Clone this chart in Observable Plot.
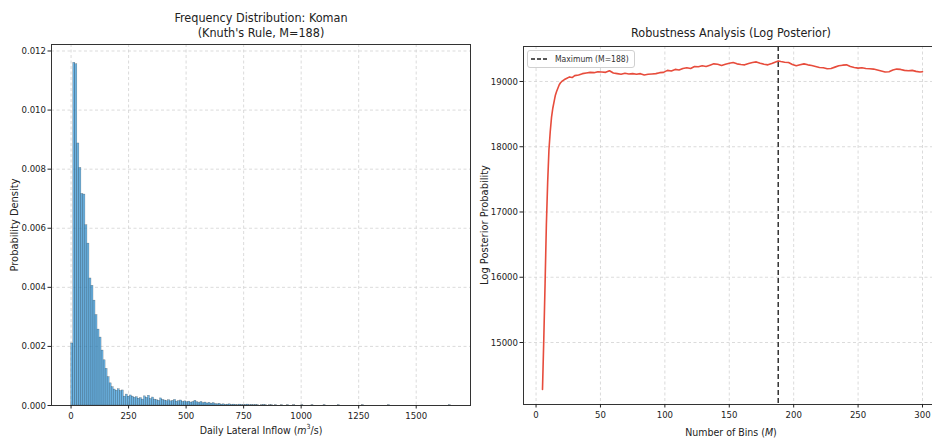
<!DOCTYPE html>
<html><head><meta charset="utf-8">
<script src="https://cdn.jsdelivr.net/npm/d3@7"></script>
<script src="https://cdn.jsdelivr.net/npm/@observablehq/plot@0.6"></script>
<style>
html,body{margin:0;padding:0;background:#fff;overflow:hidden;}
#wrap{position:relative;width:932px;height:440px;overflow:hidden;font-family:"DejaVu Sans Condensed","DejaVu Sans",sans-serif;color:#222;}
.abs{position:absolute;white-space:nowrap;line-height:1;}
.c{transform:translate(-50%,-50%);}
.r{transform:translate(-50%,-50%) rotate(-90deg);}
#wrap svg{position:absolute;top:0;}
</style></head><body><div id="wrap"></div>
<script>
// ---------- Data: histogram (Knuth's rule, M = 188 bins) ----------
const inflowMin = 1;
const inflowMax = 1650;
const nBins = 188;
const density = [
  0.0021, 0.0116, 0.01155, 0.00887, 0.00804, 0.00716, 0.00714, 0.0061, 0.00548, 0.0043,
  0.00405, 0.00355, 0.00306, 0.00257, 0.0023, 0.00186, 0.00153, 0.00124, 0.00096, 0.00075,
  0.00062, 0.00054, 0.0005, 0.00055, 0.00049, 0.00051, 0.0003, 0.00037, 0.0003, 0.00034,
  0.0003, 0.00026, 0.00028, 0.00023, 0.00025, 0.0002, 0.00031, 0.00026, 0.00033, 0.00022,
  0.00027, 0.0002, 0.00018, 0.00016, 0.00024, 0.00019, 0.00017, 0.00015, 0.00018, 0.00014,
  0.00016, 0.00019, 0.00013, 0.00015, 0.00017, 0.00012, 0.00014, 0.00011, 0.00013, 0.0001,
  0.00012, 0.00016, 0.00011, 0.00009, 0.00012, 0.00008, 0.00010, 0.00007, 0.00009, 0.00006,
  0.00008, 0.00005, 0.00004, 0.00006, 0.00003, 0.00004, 0.00002, 0.00003, 0.00004, 0.00002,
  0.00003, 0.00002, 0.00001, 0.00003, 0.00002, 0.00001, 0.00002, 0.00003, 0.00001, 0.00002,
  0.00001, 0.00002, 0.00001, 0.0, 0.00001, 0.00002, 0.00001, 0.0, 0.00001, 0.00001,
  0.0, 0.00001, 0.0, 0.0, 0.00001, 0.0, 0.0, 0.00001, 0.0, 0.0,
  0.00001, 0.0, 0.0, 0.0, 0.00001, 0.0, 0.0, 0.0, 0.0, 0.00001,
  0.0, 0.0, 0.0, 0.0, 0.0, 0.00001, 0.0, 0.0, 0.0, 0.0,
  0.0, 0.0, 0.00001, 0.0, 0.0, 0.0, 0.0, 0.0, 0.0, 0.0,
  0.0, 0.0, 0.0, 0.0, 0.00001, 0.0, 0.0, 0.0, 0.0, 0.0,
  0.0, 0.0, 0.0, 0.0, 0.0, 0.0, 0.0, 0.00001, 0.0, 0.0,
  0.0, 0.0, 0.0, 0.0, 0.0, 0.0, 0.0, 0.0, 0.0, 0.0,
  0.0, 0.0, 0.0, 0.0, 0.0, 0.0, 0.0, 0.0, 0.0, 0.0,
  0.0, 0.0, 0.0, 0.0, 0.0, 0.0, 0.0, 0.00001
];
const histXTicks = [0, 250, 500, 750, 1000, 1250, 1500];
const histYTicks = [0, 0.002, 0.004, 0.006, 0.008, 0.010, 0.012];

// ---------- Data: log posterior vs number of bins ----------
const binsM = [5,6,7,8,9,10,11,12,13,14,15,16,17,18,19,20,22,24,26,28,30,33,36,39,42,45,48,51,54,57,60,63,66,69,72,75,78,81,84,87,90,93,96,99,102,105,108,111,114,117,120,123,126,129,132,135,138,141,144,147,150,153,156,159,162,165,168,171,174,177,180,183,186,188,190,193,196,199,202,205,208,211,214,217,220,223,226,229,232,235,238,241,244,247,250,253,256,259,262,265,268,271,274,277,280,283,286,289,292,295,298,300];
const logPost = [14280,15050,15900,16800,17450,17950,18230,18450,18590,18690,18790,18850,18900,18950,18980,19000,19030,19050,19070,19060,19090,19100,19120,19130,19140,19135,19150,19145,19140,19165,19130,19120,19110,19125,19115,19120,19110,19120,19100,19110,19115,19120,19135,19140,19170,19160,19185,19175,19200,19210,19200,19230,19225,19240,19230,19250,19270,19265,19245,19265,19280,19290,19270,19260,19255,19275,19290,19300,19280,19265,19255,19275,19300,19315,19305,19295,19290,19260,19240,19255,19270,19255,19245,19230,19215,19210,19195,19200,19220,19240,19250,19255,19230,19215,19205,19210,19200,19195,19190,19175,19160,19145,19150,19175,19190,19185,19170,19165,19170,19155,19145,19150];
const bestM = [188];
const postXTicks = [0, 50, 100, 150, 200, 250, 300];
const postYTicks = [15000, 16000, 17000, 18000, 19000];

// ---------- Build ----------
const FONT = '"DejaVu Sans Condensed","DejaVu Sans",sans-serif';
const wrap = document.getElementById("wrap");
const binW = (inflowMax - inflowMin) / nBins;
const hist = density.map((d, i) => ({x1: inflowMin + i * binW, x2: inflowMin + (i + 1) * binW, d}));
const post = binsM.map((m, i) => ({M: m, v: logPost[i]}));
const grid = {stroke: "#d2d2d2", strokeDasharray: "3,2.5", strokeOpacity: 1, strokeWidth: 0.8};

const left = Plot.plot({
  width: 480, height: 440,
  marginLeft: 51, marginRight: 10, marginTop: 44, marginBottom: 35,
  style: {fontFamily: FONT, fontSize: "9.5px", color: "#222", background: "transparent"},
  x: {domain: [-85, 1736]},
  y: {domain: [0, 0.01222]},
  marks: [
    Plot.gridX(histXTicks, grid),
    Plot.gridY(histYTicks, grid),
    Plot.rectY(hist, {x1: "x1", x2: "x2", y: "d", fill: "#3498db", fillOpacity: 0.72, stroke: "black", strokeWidth: 0.4, strokeOpacity: 0.45}),
    Plot.frame({stroke: "#333", strokeWidth: 1}),
    Plot.axisX({ticks: histXTicks, tickFormat: d => String(d), label: null, tickSize: 3.5, tickPadding: 3}),
    Plot.axisY({ticks: histYTicks, tickFormat: d3.format(".3f"), label: null, tickSize: 3.5, tickPadding: 2})
  ]
});
left.style.left = "0px";
wrap.appendChild(left);

const right = Plot.plot({
  width: 461, height: 440,
  marginLeft: 43, marginRight: 0, marginTop: 46, marginBottom: 36,
  style: {fontFamily: FONT, fontSize: "9.5px", color: "#222", background: "transparent"},
  x: {domain: [-9.75, 314.75]},
  y: {domain: [14050, 19536]},
  marks: [
    Plot.gridX(postXTicks, grid),
    Plot.gridY(postYTicks, grid),
    Plot.line(post, {x: "M", y: "v", stroke: "#e74c3c", strokeWidth: 1.6}),
    Plot.ruleX(bestM, {stroke: "#333", strokeWidth: 1.5, strokeDasharray: "5,3"}),
    Plot.frame({stroke: "#333", strokeWidth: 1}),
    Plot.axisX({ticks: postXTicks, tickFormat: d => String(d), label: null, tickSize: 3.5, tickPadding: 3}),
    Plot.axisY({ticks: postYTicks, tickFormat: d => String(d), label: null, tickSize: 3.5, tickPadding: 2})
  ]
});
right.style.left = "480px";
wrap.appendChild(right);

function addText(html, x, y, cls, size) {
  const d = document.createElement("div");
  d.className = "abs " + cls;
  d.style.left = x + "px"; d.style.top = y + "px";
  d.style.fontSize = size + "px";
  d.innerHTML = html;
  wrap.appendChild(d);
}
addText("Frequency Distribution: Koman", 261, 18, "c", 12.5);
addText("(Knuth's Rule, M=188)", 261, 33, "c", 12.5);
addText("Robustness Analysis (Log Posterior)", 731, 33, "c", 12.5);
addText("Probability Density", 14, 225, "r", 11);
addText("Log Posterior Probability", 484, 225, "r", 11);
addText("Daily Lateral Inflow (<i>m</i><sup style='font-size:7px;line-height:0'>3</sup>/s)", 261, 430, "c", 10.5);
addText("Number of Bins (<i>M</i>)", 731, 432, "c", 10.5);

// legend
const lg = document.createElement("div");
lg.className = "abs";
lg.style.cssText += "left:527px;top:50px;height:16px;padding:0 5px 0 3px;border:1px solid #d0d0d0;border-radius:3px;background:rgba(255,255,255,0.85);display:flex;align-items:center;font-size:8.5px;color:#333;";
lg.innerHTML = "<svg width='18' height='6' style='position:static;margin-right:6px'><line x1='0' x2='18' y1='3' y2='3' stroke='#222' stroke-width='1.5' stroke-dasharray='4,2'/></svg><span>Maximum (M=188)</span>";
wrap.appendChild(lg);
</script>
</body></html>
